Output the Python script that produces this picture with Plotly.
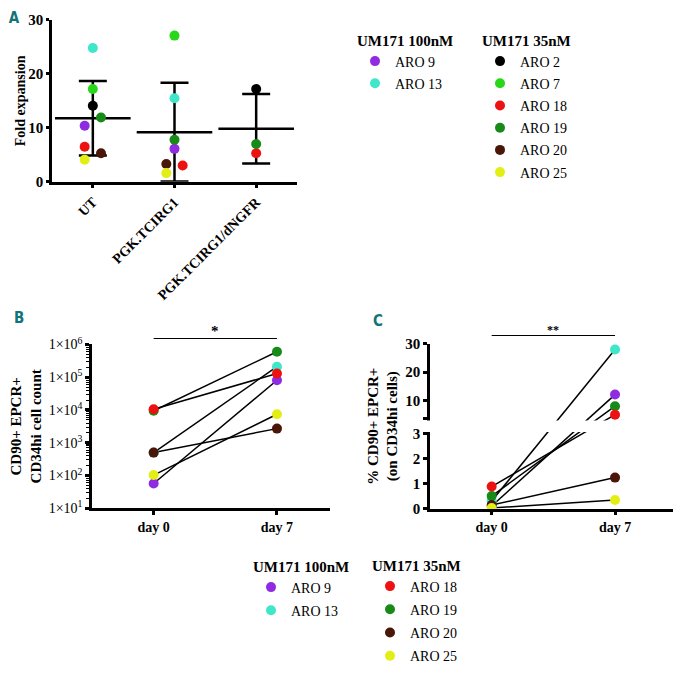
import numpy as np
import plotly.graph_objects as go

# ---- data ----
# panel A: fold expansion per patient, None = not tested in that group
groups_a = ["UT", "PGK.TCIRG1", "PGK.TCIRG1/dNGFR"]
aro_a = ["ARO 9", "ARO 13", "ARO 2", "ARO 7", "ARO 18", "ARO 19", "ARO 20", "ARO 25"]
fold_ut = [10.4, 24.8, 14.1, 17.2, 6.5, 11.9, 5.3, 4.1]
fold_pgk = [6.1, 15.5, None, 27.1, 3.0, 7.8, 3.3, 1.6]
fold_ngfr = [None, None, 17.2, None, 5.3, 7.0, None, None]

# panels B and C: day 0 vs day 7
days = ["day 0", "day 7"]
aro_bc = ["ARO 9", "ARO 13", "ARO 18", "ARO 19", "ARO 20", "ARO 25"]
count_day0 = [57, 500, 10500, 9500, 500, 103]
count_day7 = [81000, 210000, 130000, 600000, 2700, 7400]
pct_day0 = [0.1, 0.30, 0.88, 0.50, 0.14, 0.02]
pct_day7 = [12.1, 28.0, 5.0, 8.0, 1.24, 0.34]

group_100 = ["ARO 9", "ARO 13"]  # UM171 100nM, the rest are 35nM

colors = {
    "ARO 9": "#8f2be0",
    "ARO 13": "#3fe6c9",
    "ARO 2": "#000000",
    "ARO 7": "#2ad61a",
    "ARO 18": "#ee1111",
    "ARO 19": "#188a18",
    "ARO 20": "#4a1608",
    "ARO 25": "#e3ef14",
}

# ---- style ----
SERIF = "Liberation Serif, Times New Roman, Tinos, serif"
W, H = 682, 680
OFF = 8  # page body margin, the figure is shrunk to fit the window
FW, FH = W - 2 * OFF, H - 2 * OFF
jitter = {  # horizontal scatter of the dots inside each group of panel A
    "UT": [-0.1, 0, 0, 0, -0.1, 0.1, 0.1, -0.1],
    "PGK.TCIRG1": [0, 0, 0, 0, 0.1, 0, -0.1, -0.1],
    "PGK.TCIRG1/dNGFR": [0] * 8,
}

# broken y axis of panel C: 0-3 below, 3.6-30 above, both segments same height
BREAK_LO = 3.0
BREAK_HI = 3.6
UPPER_SCALE = BREAK_LO / (30 - BREAK_HI)


def broken_y(v):
    if v <= BREAK_LO:
        return v
    return BREAK_HI + (v - BREAK_HI) * UPPER_SCALE


def px_x(p):
    return (p - OFF) / FW


def px_y(p):
    return 1 - (p - OFF) / FH


fig = go.Figure()

# ---- panel A ----
cols_a = [fold_ut, fold_pgk, fold_ngfr]
means = [np.mean([v for v in c if v is not None]) for c in cols_a]
sds = [np.std([v for v in c if v is not None], ddof=1) for c in cols_a]

fig.add_trace(go.Scatter(
    x=[0, 1, 2], y=means, mode="markers",
    marker=dict(symbol="line-ew", size=54, color="black", line=dict(width=2.5, color="black")),
    error_y=dict(type="data", array=sds, width=14, thickness=2.5, color="black"),
    xaxis="x", yaxis="y", showlegend=False, hoverinfo="skip",
))

for i, name in enumerate(aro_a):
    xs, ys = [], []
    for g, col in enumerate(cols_a):
        if col[i] is not None:
            xs.append(g + jitter[groups_a[g]][i])
            ys.append(col[i])
    fig.add_trace(go.Scatter(
        x=xs, y=ys, mode="markers", name=name,
        marker=dict(size=10, color=colors[name]),
        xaxis="x", yaxis="y", cliponaxis=False,
        legend="legend" if name in group_100 else "legend2",
        legendgroup="a" + name,
    ))

# ---- panels B and C: connecting lines first, dots on top ----
for i, name in enumerate(aro_bc):
    fig.add_trace(go.Scatter(
        x=[0, 1], y=[count_day0[i], count_day7[i]], mode="lines",
        line=dict(color="black", width=1.5), xaxis="x2", yaxis="y2",
        showlegend=False, hoverinfo="skip",
    ))
    fig.add_trace(go.Scatter(
        x=[0, 1], y=[broken_y(pct_day0[i]), broken_y(pct_day7[i])], mode="lines",
        line=dict(color="black", width=1.5), xaxis="x3", yaxis="y3",
        showlegend=False, hoverinfo="skip",
    ))

draw_order = ["ARO 9", "ARO 13", "ARO 19", "ARO 18", "ARO 20", "ARO 25"]
for name in draw_order:
    i = aro_bc.index(name)
    fig.add_trace(go.Scatter(
        x=[0, 1], y=[count_day0[i], count_day7[i]], mode="markers", name=name,
        marker=dict(size=10, color=colors[name]),
        xaxis="x2", yaxis="y2", cliponaxis=False,
        legend="legend3" if name in group_100 else "legend4",
        legendgroup="b" + name, legendrank=i + 1,
    ))
    fig.add_trace(go.Scatter(
        x=[0, 1], y=[broken_y(pct_day0[i]), broken_y(pct_day7[i])], mode="markers",
        marker=dict(size=10, color=colors[name]),
        customdata=[pct_day0[i], pct_day7[i]], hovertemplate="%{customdata}",
        xaxis="x3", yaxis="y3", cliponaxis=False, showlegend=False, name=name,
    ))

# ---- axes ----
axis_style = dict(
    showline=True, linecolor="black", linewidth=2.5, ticks="outside", ticklen=4,
    tickwidth=2.5, tickcolor="black", showgrid=False, zeroline=False, automargin=False,
    tickfont=dict(family=SERIF, size=15, color="black", weight="bold"),
)
title_font = dict(family=SERIF, size=15, color="black", weight="bold")
legend_font = dict(family=SERIF, size=14, color="black")
letter_font = dict(family="DejaVu Sans Condensed", size=15, color="#13737a", weight="bold")

minor_b = [k * 10 ** n for n in range(1, 6) for k in range(2, 10)]

c_ticks = [0, 1, 2, 3, BREAK_HI, 10, 20, 30]
c_text = ["0", "1", "2", "3", "", "10", "20", "30"]

fig.update_layout(
    width=FW, height=FH,
    margin=dict(l=0, r=0, t=0, b=0),
    paper_bgcolor="white", plot_bgcolor="white",
    # letter "A" as the title: a title never pushes the margins
    title=dict(text="A", x=px_x(14), y=px_y(18), xanchor="center", yanchor="middle",
               font=letter_font),
    xaxis=dict(
        axis_style, domain=[px_x(52), px_x(297)], range=[-0.5, 2.5],
        tickvals=[0, 1, 2], ticktext=groups_a, tickangle=-45, anchor="y",
        tickfont=dict(family=SERIF, size=14, color="black", weight="bold"),
    ),
    yaxis=dict(
        axis_style, domain=[px_y(182), px_y(20)], range=[0, 30], ticklen=3,
        tickvals=[0, 10, 20, 30], anchor="x",
        title=dict(text="Fold expansion", font=dict(title_font, size=14), standoff=0),
    ),
    xaxis2=dict(
        axis_style, domain=[px_x(92), px_x(330)], range=[-0.5, 1.43],
        tickvals=[0, 1], ticktext=days, anchor="y2",
        tickfont=dict(family=SERIF, size=14, color="black", weight="bold"),
    ),
    yaxis2=dict(
        axis_style, domain=[px_y(509), px_y(345)], type="log", range=[1, 6],
        tickvals=[10 ** n for n in range(1, 7)],
        ticktext=["1×10<sup>%d</sup>" % n for n in range(1, 7)],
        tickfont=dict(family=SERIF, size=14, color="black"),
        minor=dict(tickmode="array", tickvals=minor_b, ticks="outside",
                   ticklen=3, tickwidth=1.2, tickcolor="black"),
        anchor="x2",
        title=dict(text="CD90+ EPCR+<br>CD34hi cell count", font=title_font, standoff=4),
    ),
    xaxis3=dict(
        axis_style, domain=[px_x(430), px_x(673)], range=[-0.5, 1.47],
        tickvals=[0, 1], ticktext=days, anchor="y3",
        tickfont=dict(family=SERIF, size=14, color="black", weight="bold"),
    ),
    yaxis3=dict(
        axis_style, domain=[px_y(509.3), px_y(344.3)],
        range=[0, broken_y(30)],
        tickvals=[broken_y(v) for v in c_ticks], ticktext=c_text, anchor="x3",
        title=dict(text="% CD90+ EPCR+<br>(on CD34hi cells)", font=title_font, standoff=4),
    ),
    legend=dict(x=px_x(355), y=px_y(26), xanchor="left", yanchor="top",
                title=dict(text="UM171 100nM", font=title_font),
                font=legend_font, tracegroupgap=1),
    legend2=dict(x=px_x(480), y=px_y(26), xanchor="left", yanchor="top",
                 title=dict(text="UM171 35nM", font=title_font),
                 font=legend_font, tracegroupgap=1),
    # bottom legends kept just inside the lower edge so they do not push the margins
    legend3=dict(x=px_x(251), y=px_y(552), xanchor="left", yanchor="top",
                 title=dict(text="UM171 100nM", font=title_font),
                 font=legend_font, tracegroupgap=2),
    legend4=dict(x=px_x(370), y=px_y(552), xanchor="left", yanchor="top",
                 title=dict(text="UM171 35nM", font=title_font),
                 font=legend_font, tracegroupgap=2),
)

# significance bars and the axis break of panel C
fig.add_shape(type="line", xref="x2", yref="paper", x0=0, x1=1,
              y0=px_y(339), y1=px_y(339), line=dict(color="black", width=1.2))
fig.add_shape(type="line", xref="x3", yref="paper", x0=0, x1=1,
              y0=px_y(336), y1=px_y(336), line=dict(color="black", width=1.2))
fig.add_shape(type="rect", xref="x3 domain", yref="y3", x0=-0.02, x1=1.0,
              y0=BREAK_LO + 0.07, y1=BREAK_HI - 0.07, fillcolor="white",
              line=dict(width=0), layer="above")

fig.add_annotation(text="*", xref="x2", yref="paper", x=0.5, y=px_y(331),
                   showarrow=False, font=dict(family=SERIF, size=15, color="black", weight="bold"))
fig.add_annotation(text="**", xref="x3", yref="paper", x=0.5, y=px_y(330),
                   showarrow=False, font=dict(family=SERIF, size=12, color="black", weight="bold"))

# panel letters B and C
for letter, lx, ly in [("B", 19, 318), ("C", 378, 321)]:
    fig.add_annotation(text=letter, xref="paper", yref="paper", x=px_x(lx), y=px_y(ly),
                       xanchor="center", yanchor="middle", showarrow=False, font=letter_font)

fig.write_html("out.html")
